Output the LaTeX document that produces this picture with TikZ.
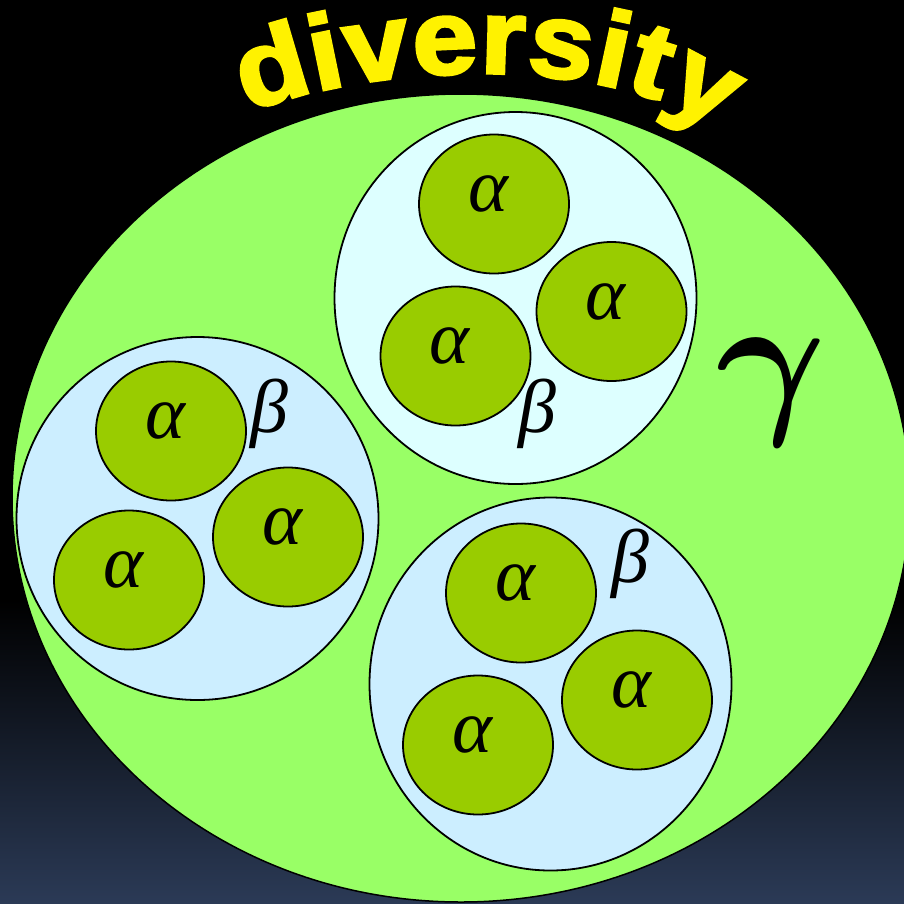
\documentclass[tikz,border=0pt]{standalone}
\usepackage{fontspec}
\usepackage{tikz}
\usetikzlibrary{shapes.geometric,decorations.text,positioning}
\newfontfamily\wordfont{Liberation Sans Bold}[FakeBold=3, FakeStretch=1.1]
\newfontfamily\greekfont{Liberation Serif}
\newcommand\archfont{\wordfont\fontsize{106}{106}\selectfont}
\definecolor{landgreen}{RGB}{153,255,102}
\definecolor{patchgreen}{RGB}{153,204,0}
\definecolor{palecyan}{RGB}{221,255,255}
\definecolor{paleblue}{RGB}{204,238,255}
\definecolor{slate}{RGB}{43,58,86}
\tikzset{
  landscape/.style={
    shape = ellipse,
    draw,
    fill = landgreen,
    line width = 1.5pt,
    inner sep = 0pt
  },
  habitat/.style={
    shape = ellipse,
    draw,
    fill = paleblue,
    line width = 1.8pt,
    inner sep = 0pt,
    minimum width = 362pt
  },
  patch/.style={
    shape = ellipse,
    draw,
    fill = patchgreen,
    line width = 1.8pt,
    inner sep = 0pt,
    minimum width = 150pt,
    minimum height = 139pt
  },
  greek/.style={
    font = \greekfont\itshape\fontsize{76}{76}\selectfont,
    inner sep = 0pt
  },
}

\begin{document}
\begin{tikzpicture}[x=1pt,y=-1pt]
    \useasboundingbox (0,0) rectangle (904,903);
    \fill[black] (0,0) rectangle (904,903);
    \shade[top color=black, bottom color=slate] (0,600) rectangle (904,903);
    \clip (0,0) rectangle (904,903);
    % gamma
    \node[landscape, minimum width=898pt, minimum height=808pt] (land) at (461,498) {};
    % beta
    \node[habitat, fill=palecyan, minimum height=372pt] (hN) at (515.5,298) {};
    \node[habitat, minimum height=363pt] (hW) at (197.5,518.5) {};
    \node[habitat, minimum height=373pt] (hS) at (550.5,684) {};
    % alpha
    \foreach \n/\x/\y in {n1/494/204, n2/611.5/311.5, n3/455.5/356,
                          w1/171/431, w2/288/537, w3/129/580,
                          s1/521/593, s2/637/700, s3/478/745}{
        \node[patch] (\n) at (\x,\y) {};
        \node[greek] (l\n) at ([shift={(-6,-10)}]\n) {α};
    }
    \node[greek] (bN) at (537,414) {β};
    \node[greek] (bW) at (269,414) {β};
    \node[greek] (bS) at (630,564) {β};
    \node[inner sep=0pt, scale=16.8, font={\fontsize{10}{12}\selectfont\mathversion{bold}}] (g) at (771,392) {$\gamma$};
    \path[decorate, decoration={text along path, text={|\archfont|diversity},
        text color=yellow, text align={fit to path}}]
        (247,112) .. controls (405,54) and (628,61) .. (718,132);
\end{tikzpicture}
\end{document}
